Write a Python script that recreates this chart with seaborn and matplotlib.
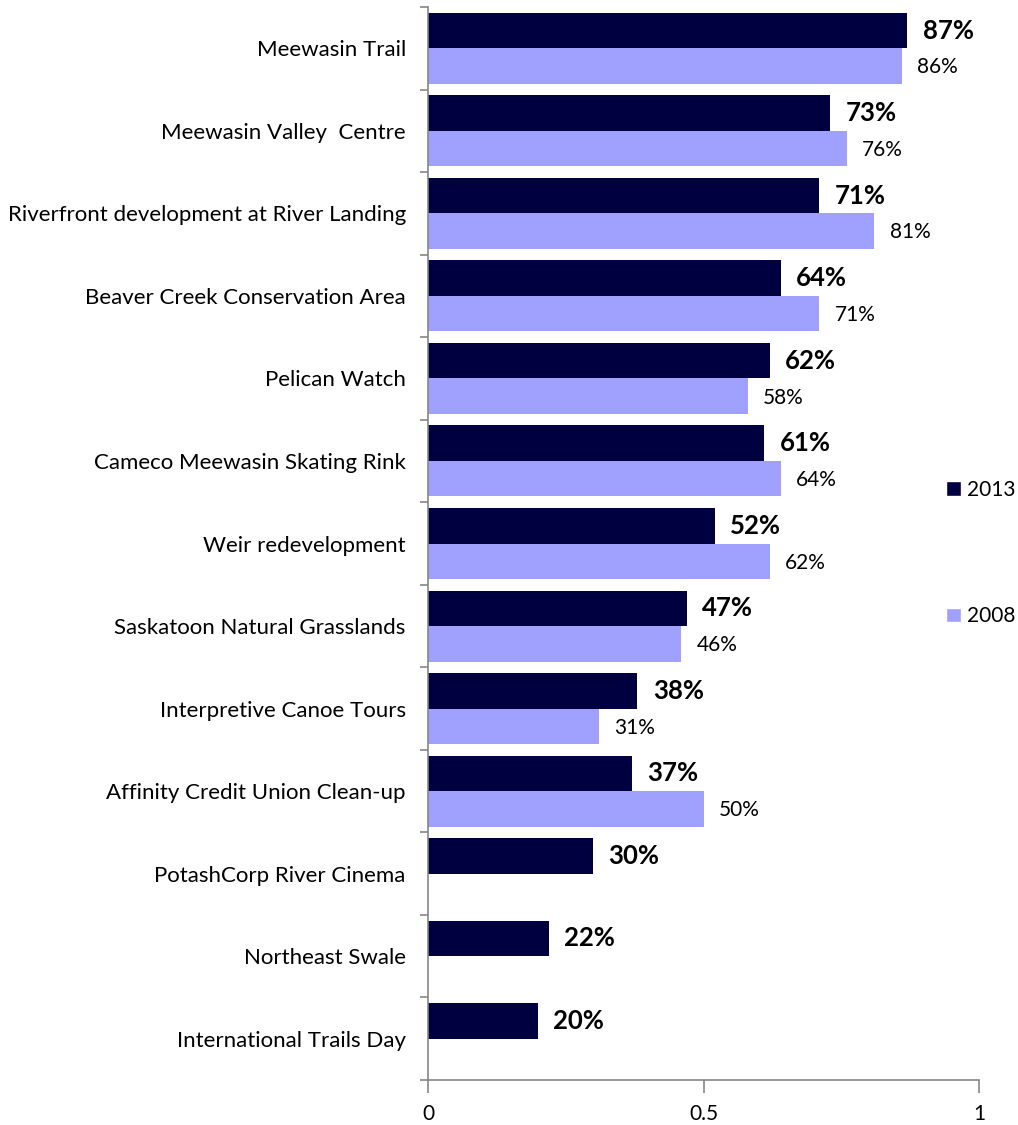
import matplotlib
matplotlib.use('Agg')
import matplotlib.pyplot as plt
import numpy as np
import pandas as pd
import seaborn as sns
from matplotlib.ticker import FixedLocator

CATEGORIES = ['Meewasin Trail', 'Meewasin Valley  Centre', 'Riverfront development at River Landing',
              'Beaver Creek Conservation Area', 'Pelican Watch', 'Cameco Meewasin Skating Rink',
              'Weir redevelopment', 'Saskatoon Natural Grasslands', 'Interpretive Canoe Tours',
              'Affinity Credit Union Clean-up', 'PotashCorp River Cinema', 'Northeast Swale',
              'International Trails Day']
Y2013 = [0.87, 0.73, 0.71, 0.64, 0.62, 0.61, 0.52, 0.47, 0.38, 0.37, 0.30, 0.22, 0.20]
Y2008 = [0.86, 0.76, 0.81, 0.71, 0.58, 0.64, 0.62, 0.46, 0.31, 0.50, np.nan, np.nan, np.nan]
YEARS = ['2013', '2008']
COLORS = {'2013': '#000040', '2008': '#A0A0FF'}
XTICKS = [0, 0.5, 1]
XTICKLABELS = ['0', '0.5', '1']

AXIS_GREY = '#868686'

df = pd.concat([
    pd.DataFrame({'item': CATEGORIES, 'share': Y2013, 'year': '2013'}),
    pd.DataFrame({'item': CATEGORIES, 'share': Y2008, 'year': '2008'}),
], ignore_index=True)

sns.set_style('white')
plt.rcParams['font.family'] = ['Lato', 'DejaVu Sans']
plt.rcParams['text.color'] = 'black'
plt.rcParams['xtick.color'] = 'black'
plt.rcParams['ytick.color'] = 'black'

fig = plt.figure(figsize=(10.18, 11.25), dpi=100)
ax = fig.add_axes([428 / 1018, 1 - 1080 / 1125, 551 / 1018, 1073 / 1125])

sns.barplot(data=df, y='item', x='share', hue='year', hue_order=YEARS, order=CATEGORIES,
            palette=COLORS, orient='h', width=0.86, saturation=1, ax=ax)

# value labels: bold for 2013, regular for 2008
for cont, year in zip(ax.containers, YEARS):
    for bar in cont:
        if bar is None:
            continue
        w = bar.get_width()
        if np.isnan(w):
            continue
        bar.set_edgecolor('none')
        y = bar.get_y() + bar.get_height() / 2
        bold = year == '2013'
        ax.annotate(f'{w * 100:.0f}%', (w, y), xytext=(11, 0 if bold else -1),
                    textcoords='offset points', va='center', ha='left', color='black',
                    fontsize=18.5 if bold else 15, fontweight='bold' if bold else 'normal')

ax.set_xlim(0, 1)
ax.set_ylim(len(CATEGORIES) - 0.5, -0.5)
ax.set_xticks(XTICKS)
ax.set_xticklabels(XTICKLABELS, fontsize=15)
ax.set_xlabel('')
ax.set_ylabel('')
ax.tick_params(axis='y', which='major', length=0, labelsize=16, pad=16, labelcolor='black')
ax.yaxis.set_minor_locator(FixedLocator(np.arange(-0.5, len(CATEGORIES), 1)))
ax.tick_params(axis='y', which='minor', length=6, color=AXIS_GREY, width=1.2, left=True)
ax.tick_params(axis='x', which='major', length=9, color=AXIS_GREY, width=1.2, bottom=True, pad=8,
               labelcolor='black')
sns.despine(ax=ax)
for side in ('left', 'bottom'):
    ax.spines[side].set_color(AXIS_GREY)
    ax.spines[side].set_linewidth(1.2)

handles, labs = ax.get_legend_handles_labels()
ax.legend(handles, labs, loc='center left', bbox_to_anchor=(946 / 1018, 1 - 553 / 1125),
          bbox_transform=fig.transFigure, frameon=False, fontsize=15, handlelength=0.7,
          handleheight=0.7, handletextpad=0.3, labelspacing=5.1, borderaxespad=0, borderpad=0)

fig.savefig('out.png', dpi=100)
